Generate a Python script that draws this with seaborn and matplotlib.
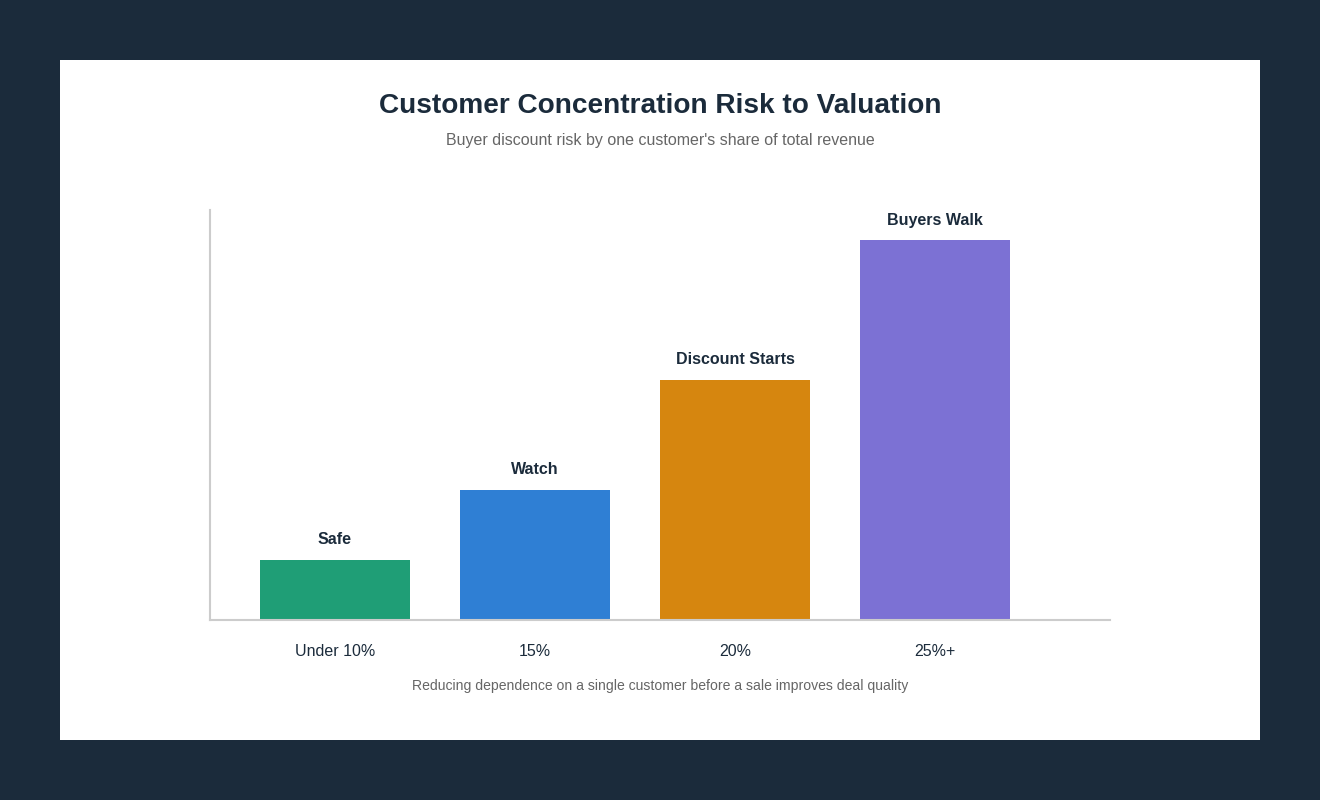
import matplotlib
matplotlib.use("Agg")
import matplotlib.pyplot as plt
import seaborn as sns
import pandas as pd
from matplotlib.patches import Rectangle

categories = ["Under 10%", "15%", "20%", "25%+"]
risk_score = [15, 32.5, 60, 95]
bar_labels = ["Safe", "Watch", "Discount Starts", "Buyers Walk"]
colors = ["#1f9e76", "#2f7fd4", "#d6860f", "#7c71d4"]

title = "Customer Concentration Risk to Valuation"
subtitle = "Buyer discount risk by one customer's share of total revenue"
footnote = "Reducing dependence on a single customer before a sale improves deal quality"

sns.set_theme(style="white")
plt.rcParams["font.family"] = ["Liberation Sans", "DejaVu Sans"]

W, H = 1320, 800
fig = plt.figure(figsize=(W / 100, H / 100), dpi=100)
fig.patch.set_facecolor("#1b2b3b")
fig.patches.append(Rectangle((60 / W, 60 / H), 1200 / W, 680 / H, transform=fig.transFigure,
                             facecolor="white", edgecolor="none", zorder=-10))

ax = fig.add_axes([210 / W, 180 / H, 900 / W, 410 / H])
ax.set_facecolor("none")
ax.set_zorder(5)

df = pd.DataFrame({"cat": categories, "val": risk_score})
sns.barplot(data=df, x="cat", y="val", hue="cat", palette=colors, legend=False,
            width=0.75, saturation=1, linewidth=0, ax=ax)

ax.set_xlim(-0.625, 3.875)
ax.set_ylim(0, 102.5)
ax.set_xlabel("")
ax.set_ylabel("")
ax.set_yticks([])

for i, (v, lab) in enumerate(zip(risk_score, bar_labels)):
    ax.annotate(lab, xy=(i, v), xytext=(0, 14.4), textcoords="offset points",
                ha="center", va="center", fontsize=11.5, fontweight="bold", color="#1b2b3b")

ax.tick_params(axis="x", length=0, pad=17, labelsize=11.5, labelcolor="#1b2b3b")
for t in ax.get_xticklabels():
    t.set_fontfamily(["Liberation Sans", "DejaVu Sans"])

for s in ["top", "right"]:
    ax.spines[s].set_visible(False)
for s in ["left", "bottom"]:
    ax.spines[s].set_color("#cccccc")
    ax.spines[s].set_linewidth(1.5)

fig.text(0.5, 1 - 106 / H, title, ha="center", va="center", fontsize=20.2,
         fontweight="bold", color="#1b2b3b", zorder=6)
fig.text(0.5, 1 - 140 / H, subtitle, ha="center", va="center", fontsize=11.5,
         color="#666666", zorder=6)
fig.text(0.5, 1 - 686 / H, footnote, ha="center", va="center", fontsize=10.1,
         color="#666666", zorder=6)

fig.savefig("out.png", dpi=100, facecolor=fig.get_facecolor())
